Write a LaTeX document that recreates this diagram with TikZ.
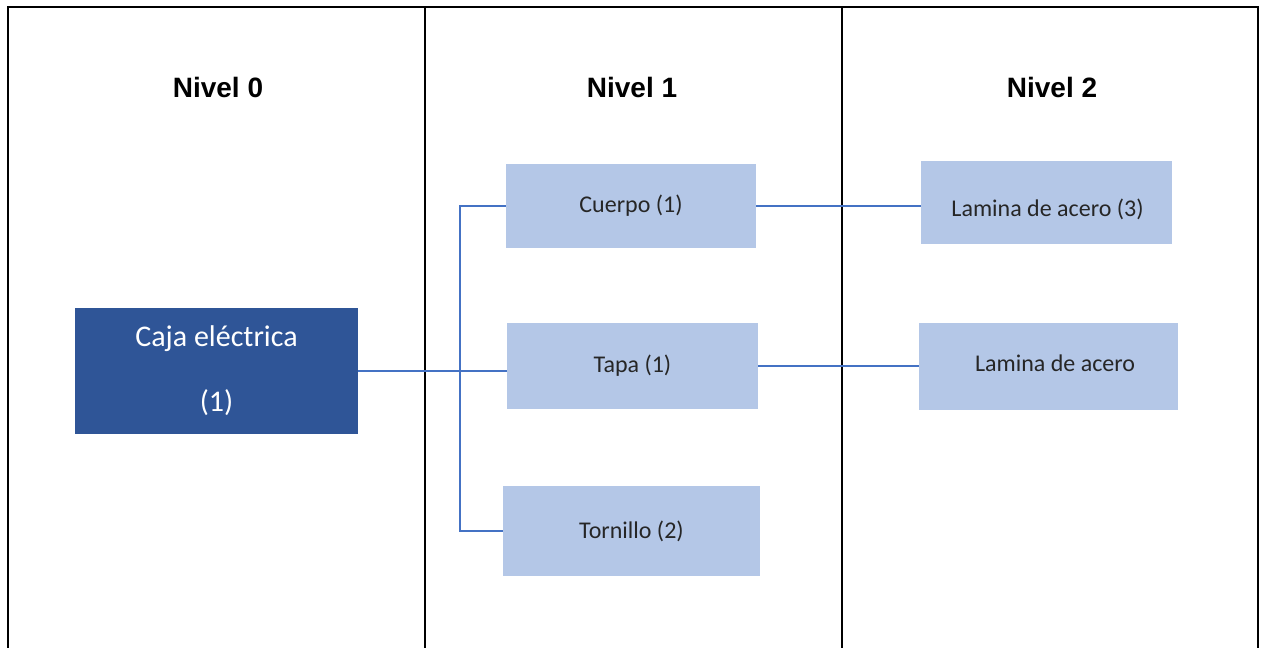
\documentclass[tikz,border=0pt]{standalone}
\usepackage{fontspec}
\setmainfont{Carlito}
\newfontfamily\hfont{Liberation Sans}
\definecolor{darkbox}{HTML}{2F5597}
\definecolor{lightbox}{HTML}{B4C7E7}
\definecolor{connc}{HTML}{4472C4}
\tikzset{
  frameline/.style={line width=2.8pt, black},
  header/.style={font=\hfont\bfseries\fontsize{28}{33}\selectfont, inner sep=0pt},
  partbox/.style={fill=lightbox, draw=none, inner sep=0pt, font=\fontsize{24}{28}\selectfont, text=black!85},
  rootbox/.style={fill=darkbox, draw=none, inner sep=0pt, font=\fontsize{30}{36}\selectfont, text=white, align=center},
  conn/.style={draw=connc, line width=1.5pt},
}
\begin{document}
\begin{tikzpicture}[x=1pt, y=-1pt]
\useasboundingbox (0,0) rectangle (1262,648);
\fill[white] (0,0) rectangle (1262,648);
% frame and column dividers
\draw[frameline] (8,648) -- (8,7) -- (1258,7) -- (1258,648);
\draw[frameline] (425,7) -- (425,648);
\draw[frameline] (842,7) -- (842,648);
% headers
\node[header] (h0) at (218,87) {Nivel 0};
\node[header] (h1) at (632,87) {Nivel 1};
\node[header] (h2) at (1052,87) {Nivel 2};
% boxes
\node[rootbox, minimum width=283pt, minimum height=126pt] (caja) at (216.5,371) {Caja eléctrica\\[29pt](1)};
\node[partbox, minimum width=250pt, minimum height=84pt] (cuerpo) at (631,206) {Cuerpo (1)};
\node[partbox, minimum width=251pt, minimum height=86pt] (tapa) at (632.5,366) {Tapa (1)};
\node[partbox, minimum width=257pt, minimum height=90pt] (torn) at (631.5,531) {Tornillo (2)};
\node[partbox, minimum width=251pt, minimum height=83pt] (lam1) at (1046.5,202.5) {};
\node[partbox, fill=none] (lam1t) at (1047.5,209) {Lamina de acero (3)};
\node[partbox, minimum width=259pt, minimum height=87pt] (lam2) at (1048.5,366.5) {};
\node[partbox, fill=none] (lam2t) at (1055,363) {Lamina de acero};
% connectors
\coordinate (bus) at (460,371);
\draw[conn] (caja.east) -- (caja.east -| tapa.west);
\draw[conn] (cuerpo.west) -| (bus) |- (torn.west);
\draw[conn] (cuerpo.east) -- (cuerpo.east -| lam1.west);
\draw[conn] (tapa.east) -- (tapa.east -| lam2.west);
\end{tikzpicture}
\end{document}
